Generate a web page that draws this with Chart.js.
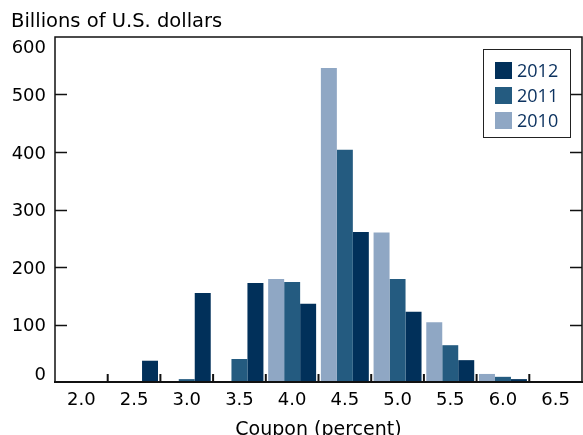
<!DOCTYPE html>
<html>
<head>
<meta charset="utf-8">
<script src="https://cdn.jsdelivr.net/npm/chart.js@4/dist/chart.umd.min.js"></script>
<style>
  html, body { margin: 0; padding: 0; background: #fff; }
  #wrap { position: relative; width: 583px; height: 435px; overflow: hidden; }
  #legend {
    position: absolute; left: 483px; top: 49px; width: 86px; height: 87px;
    border: 1.5px solid #222; font: 18px "Open Sans", sans-serif; color: #0d3360;
  }
  #legend .item { position: absolute; left: 11px; height: 17px; line-height: 17px; }
  #legend .sw { display: inline-block; width: 17px; height: 17px; vertical-align: top; margin-right: 5px; }
</style>
</head>
<body>
<div id="wrap">
  <canvas id="couponChart" width="583" height="435"></canvas>
  <div id="legend"></div>
</div>
<script>
const coupons = ['2.0', '2.5', '3.0', '3.5', '4.0', '4.5', '5.0', '5.5', '6.0', '6.5'];
const vals2010 = [0, 0, 0, 0, 179, 546, 260, 104, 14, 0];
const vals2011 = [0, 0, 5, 40, 174, 404, 179, 64, 9, 1];
const vals2012 = [1, 37, 155, 172, 136, 261, 122, 38, 5, 1];

const colors = { 2012: '#01305a', 2011: '#245b80', 2010: '#8fa7c4' };
const fontFamily = '"DejaVu Sans", sans-serif';

// legend (2012 on top)
const legend = document.getElementById('legend');
['2012', '2011', '2010'].forEach((yr, i) => {
    const el = document.createElement('div');
    el.className = 'item';
    el.style.top = (12 + i * 25) + 'px';
    el.innerHTML = `<span class="sw" style="background:${colors[yr]}"></span>${yr}`;
    legend.appendChild(el);
});

// frame, inward ticks, top-left unit label
const framePlugin = {
    id: 'frame',
    afterDraw(chart) {
        const { ctx, chartArea: a, scales: { x, y } } = chart;
        ctx.save();
        ctx.strokeStyle = '#111';
        ctx.lineWidth = 1.5;
        ctx.beginPath();
        ctx.moveTo(a.left, a.bottom); ctx.lineTo(a.left, a.top);
        ctx.lineTo(a.right, a.top); ctx.lineTo(a.right, a.bottom);
        ctx.stroke();
        ctx.lineWidth = 2;
        ctx.beginPath();
        ctx.moveTo(a.left - 1, a.bottom); ctx.lineTo(a.right + 1, a.bottom);
        ctx.stroke();
        ctx.lineWidth = 1.5;
        for (let v = 100; v < 600; v += 100) {
            const py = Math.round(y.getPixelForValue(v)) + 0.5;
            ctx.beginPath();
            ctx.moveTo(a.left, py); ctx.lineTo(a.left + 12, py);
            ctx.moveTo(a.right, py); ctx.lineTo(a.right - 12, py);
            ctx.stroke();
        }
        ctx.lineWidth = 2;
        for (let i = 0; i < coupons.length - 1; i++) {
            const px = (x.getPixelForValue(i) + x.getPixelForValue(i + 1)) / 2;
            ctx.beginPath();
            ctx.moveTo(px, a.bottom); ctx.lineTo(px, a.bottom - 8);
            ctx.stroke();
        }
        ctx.fillStyle = '#000';
        ctx.font = '19.5px ' + fontFamily;
        ctx.textBaseline = 'alphabetic';
        ctx.fillText('Billions of U.S. dollars', 11, 27);
        ctx.restore();
    }
};

new Chart(document.getElementById('couponChart'), {
    type: 'bar',
    data: {
        labels: coupons,
        datasets: [
            { label: '2010', data: vals2010, backgroundColor: colors[2010] },
            { label: '2011', data: vals2011, backgroundColor: colors[2011] },
            { label: '2012', data: vals2012, backgroundColor: colors[2012] },
        ],
    },
    options: {
        responsive: false,
        animation: false,
        devicePixelRatio: 1,
        layout: { padding: { left: 0, right: 1, top: 37, bottom: 0 } },
        datasets: { bar: { categoryPercentage: 0.91, barPercentage: 1.0 } },
        plugins: { legend: { display: false }, tooltip: { enabled: false } },
        scales: {
            x: {
                grid: { display: false, drawTicks: false },
                border: { display: false },
                ticks: { color: '#000', font: { family: fontFamily, size: 18 }, padding: 8, maxRotation: 0 },
                title: {
                    display: true, text: 'Coupon (percent)', color: '#000',
                    font: { family: fontFamily, size: 19 }, padding: { top: 0, bottom: -6 },
                },
                afterFit(s) { s.height = 53; },
            },
            y: {
                min: 0, max: 600,
                grid: { display: false, drawTicks: false },
                border: { display: false },
                ticks: {
                    stepSize: 100, color: '#000', padding: 9, labelOffset: 2,
                    font: { family: fontFamily, size: 18, lineHeight: 1 },
                    // end labels sit inside the frame, as in the original
                    callback: v => v === 600 ? ['', '600'] : v === 0 ? ['0', ''] : String(v),
                },
                afterFit(s) { s.width = 55; },
            },
        },
    },
    plugins: [framePlugin],
});
</script>
</body>
</html>
